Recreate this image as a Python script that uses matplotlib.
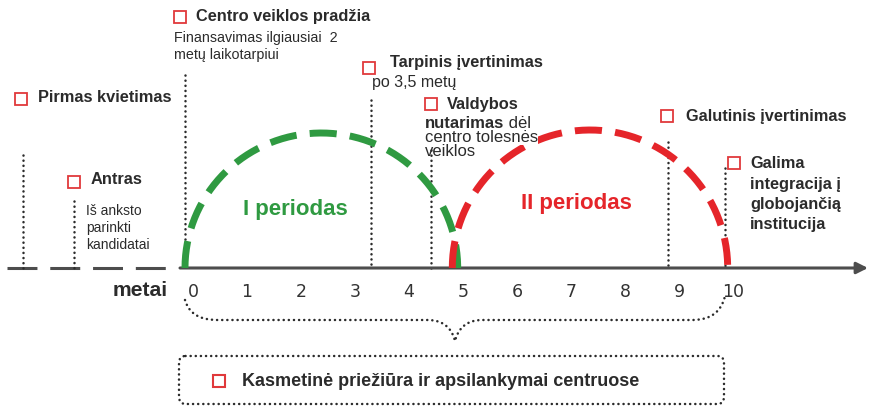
import numpy as np
import matplotlib.pyplot as plt
from matplotlib.path import Path
from matplotlib.patches import PathPatch, FancyBboxPatch

plt.rcParams['font.family'] = ['Liberation Sans', 'DejaVu Sans']

# --- timeline data ---
year_ticks = [0, 1, 2, 3, 4, 5, 6, 7, 8, 9, 10]
axis_label = "metai"

event_years = [-3.0, -2.05, 0.0, 3.45, 4.55, 8.95, 10.0]
event_titles = ["Pirmas kvietimas", "Antras", "Centro veiklos pradžia",
                "Tarpinis įvertinimas", "Valdybos", "Galutinis įvertinimas", "Galima"]

period_names = ["I periodas", "II periodas"]
period_start = [0.0, 4.95]
period_end = [5.05, 10.05]
period_colors = ["#2f9a41", "#e5252a"]

footer_text = "Kasmetinė priežiūra ir apsilankymai centruose"

# --- layout (x in years, y in pixels from top) ---
PX0, PXY = 185, 54          # pixel of year 0, pixels per year
BASE = 268                  # baseline y
def X(px):
    return (px - PX0) / PXY

dark = "#2b2b2b"
axis_col = "#4d4d4d"
sq_col = "#e0393b"
dots = (0, (0.05, 2.0))

fig = plt.figure(figsize=(8.72, 4.08), dpi=100)
ax = fig.add_axes([0, 0, 1, 1])
ax.set_xlim(X(0), X(872))
ax.set_ylim(408, 0)
ax.axis('off')

# baseline: dashed part before year 0, solid arrow after
ax.plot([X(7), X(172)], [BASE, BASE], color=axis_col, lw=2.2,
        linestyle=(0, (9.8, 4.2)), solid_capstyle='butt')
ax.annotate('', xy=(X(868), BASE), xytext=(X(180), BASE),
            arrowprops=dict(arrowstyle='-|>', lw=2.2, color=axis_col,
                            mutation_scale=17, shrinkA=0, shrinkB=0))

# periods as dashed half-ellipses
period_h = [135, 138]
period_lbl = [(X(295), 210), (X(576), 203)]
for i, name in enumerate(period_names):
    c = (period_start[i] + period_end[i]) / 2
    a = (period_end[i] - period_start[i]) / 2
    t = np.linspace(np.pi, 0, 200)
    ax.plot(c + a * np.cos(t), BASE - period_h[i] * np.sin(t),
            color=period_colors[i], lw=5, linestyle=(0, (3.9, 1.9)),
            dash_capstyle='butt', zorder=3)
    ax.text(period_lbl[i][0], period_lbl[i][1], name, color=period_colors[i],
            fontsize=16, fontweight='bold', ha='center', va='center', zorder=4)

# event dotted lines
line_top = [155, 201, 75, 100, 150, 142, 168]
for yr, top in zip(event_years, line_top):
    ax.plot([yr, yr], [top, BASE], color=dark, lw=1.8,
            linestyle=dots, dash_capstyle='round', zorder=2)

# event titles with red squares
title_pos = [(21, 38, 98), (74, 91, 179), (180, 196, 17), (369, 390, 62),
             (431, 447, 104), (667, 686, 116), (734, 750, 164)]
sq_y = [99, 182, 17, 68, 104, 116, 163]
for title, (sx, tx, ty), sy in zip(event_titles, title_pos, sq_y):
    ax.plot(X(sx), sy, marker='s', ms=8, mfc='white', mec=sq_col, mew=1.3, zorder=5)
    ax.text(X(tx), ty, title, fontsize=11.8, fontweight='bold', color=dark,
            va='center', ha='left', zorder=5)

# notes
ax.text(X(174), 38, "Finansavimas ilgiausiai  2", fontsize=10.3, color=dark, va='center')
ax.text(X(174), 55, "metų laikotarpiui", fontsize=10.3, color=dark, va='center')
ax.text(X(372), 83, "po 3,5 metų", fontsize=11.5, color=dark, va='center')
t = ax.text(X(425), 123, "nutarimas", fontsize=12, fontweight='bold', color=dark,
            va='center', zorder=5, bbox=dict(fc='white', ec='none', pad=0))
ax.annotate(" dėl", xy=(1, 0.5), xycoords=t, fontsize=12, color=dark, va='center')
ax.text(X(425), 137, "centro tolesnės", fontsize=12, color=dark, va='center', zorder=5,
        bbox=dict(fc='white', ec='none', pad=0))
ax.text(X(425), 151, "veiklos", fontsize=12, color=dark, va='center', zorder=5)
for txt, y in zip(["Iš anksto", "parinkti", "kandidatai"], [211, 228, 245]):
    ax.text(X(86), y, txt, fontsize=10, color=dark, va='center')
for txt, y in zip(["integracija į", "globojančią", "institucija"], [184, 204, 224]):
    ax.text(X(750), y, txt, fontsize=11.8, fontweight='bold', color=dark, va='center')

# axis labels
ax.text(X(168), 291, axis_label, fontsize=15.2, fontweight='bold', color=dark,
        ha='right', va='center')
for yr in year_ticks:
    ax.text(yr + 0.15, 292, str(yr), fontsize=12.5, color="#333333", ha='center',
            va='center', family='DejaVu Sans')

# brace under the years
x0, x1 = year_ticks[0], year_ticks[-1]
xm = (x0 + x1) / 2
d = 0.4
verts = [(x0, 300), (x0 + 0.1, 320), (x0 + 0.6, 320),
         (xm - d - 0.1, 320),
         (xm - 0.1, 320), (xm, 341),
         (xm + 0.1, 320), (xm + d + 0.1, 320),
         (x1 - 0.6, 320),
         (x1 - 0.1, 320), (x1, 296)]
codes = [Path.MOVETO, Path.CURVE3, Path.CURVE3, Path.LINETO,
         Path.CURVE3, Path.CURVE3, Path.CURVE3, Path.CURVE3,
         Path.LINETO, Path.CURVE3, Path.CURVE3]
ax.add_patch(PathPatch(Path(verts, codes), fill=False, ec=dark, lw=1.8,
                       linestyle=dots, capstyle='round'))

# footer box
box = FancyBboxPatch((X(179), 356), X(724) - X(179), 48,
                     boxstyle='round,pad=0,rounding_size=0.12', fill=False,
                     ec=dark, lw=1.8, linestyle=dots, capstyle='round',
                     mutation_aspect=60)
ax.add_patch(box)
ax.plot(X(219), 381, marker='s', ms=8, mfc='white', mec=sq_col, mew=1.5)
ax.text(X(242), 381, footer_text, fontsize=13, fontweight='bold', color=dark, va='center')

fig.savefig("out.png", dpi=100)
